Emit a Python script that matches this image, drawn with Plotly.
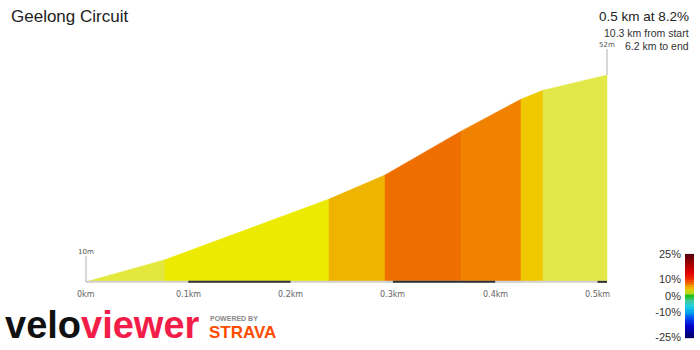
import plotly.graph_objects as go

# ---- data ----
title = "Geelong Circuit"
dist_km = [0.0, 0.0772, 0.2375, 0.2923, 0.3666, 0.4252, 0.4467, 0.5093]
elev_m = [10.0, 14.5, 26.8, 31.7, 40.6, 47.1, 48.9, 52.0]
seg_colors = ["#e4e83c", "#ecea00", "#eeb400", "#ee6e00", "#f08200", "#f0c800", "#e3e84a"]
tick_km = [0.0, 0.1, 0.2, 0.3, 0.4, 0.5]
tick_text = ["0km", "0.1km", "0.2km", "0.3km", "0.4km", "0.5km"]
info_main = "0.5 km at 8.2%"
info_start = "10.3 km from start"
info_end = "6.2 km to end"
grad_ticks = [-25, -10, 0, 10, 25]
grad_text = ["-25%", "-10%", "0%", "10%", "25%"]
grad_colorscale = [
    [0.00, "#000060"], [0.14, "#0000d0"], [0.24, "#0050f0"], [0.30, "#00a0f0"],
    [0.38, "#20d0e0"], [0.44, "#40c8a0"], [0.50, "#20c020"], [0.54, "#b8d820"],
    [0.58, "#e8d000"], [0.64, "#f08000"], [0.70, "#f03000"], [0.78, "#e00000"],
    [0.88, "#a80000"], [1.00, "#580010"],
]

base = min(elev_m)
end = dist_km[-1]
W, H = 700, 350


def px(xp):
    return xp / W


def py(yp):
    return 1 - yp / H


fig = go.Figure()

# profile segments
for i in range(len(dist_km) - 1):
    x0, x1 = dist_km[i], dist_km[i + 1]
    fig.add_trace(go.Scatter(
        x=[x0, x0, x1, x1, x0], y=[base, elev_m[i], elev_m[i + 1], base, base],
        fill="toself", fillcolor=seg_colors[i], mode="lines",
        line=dict(color=seg_colors[i], width=0.5), hoverinfo="skip", showlegend=False,
        xaxis="x", yaxis="y"))

# baseline
fig.add_shape(type="line", xref="x", yref="y", x0=0, x1=end, y0=base, y1=base,
              line=dict(color="#d0d0d0", width=2), layer="above")
for i in range(1, len(tick_km), 2):
    x1 = min(tick_km[i + 1], end) if i + 1 < len(tick_km) else end
    fig.add_shape(type="line", xref="x", yref="y", x0=tick_km[i], x1=x1, y0=base, y1=base,
                  line=dict(color="#333333", width=2), layer="above")

# tick labels
for t, s in zip(tick_km, tick_text):
    fig.add_annotation(x=t, y=base, xref="x", yref="y", text=s, showarrow=False,
                       yanchor="top", yshift=-6, font=dict(family="DejaVu Sans", size=8, color="#666"))

# elevation markers
for x, e in [(dist_km[0], elev_m[0]), (dist_km[-1], elev_m[-1])]:
    fig.add_shape(type="line", xref="x", yref="y", x0=x, x1=x, ysizemode="pixel", yanchor=e,
                  y0=0, y1=26, line=dict(color="#b0b0b0", width=1))
    fig.add_annotation(x=x, y=e, xref="x", yref="y", text=f"{e:.0f}m", showarrow=False,
                       xanchor="center", yanchor="bottom", yshift=24,
                       font=dict(family="DejaVu Sans", size=7, color="#555"))

# gradient scale
z_vals = list(range(-25, 26))
fig.add_trace(go.Heatmap(
    z=[[v] for v in z_vals], y=z_vals, x=[0], colorscale=grad_colorscale, zmin=-25, zmax=25,
    showscale=False, hoverinfo="skip", xaxis="x2", yaxis="y2"))

# texts
fig.add_annotation(x=px(9), y=py(12), xref="paper", yref="paper", text=title, showarrow=False,
                   xanchor="left", yanchor="middle",
                   font=dict(family="Liberation Sans, Arial", size=17, color="#222"))
fig.add_annotation(x=px(691), y=py(12), xref="paper", yref="paper", text=info_main, showarrow=False,
                   xanchor="right", yanchor="middle",
                   font=dict(family="Liberation Sans, Arial", size=13.5, color="#222"))
fig.add_annotation(x=px(691), y=py(29), xref="paper", yref="paper", text=info_start, showarrow=False,
                   xanchor="right", yanchor="middle",
                   font=dict(family="Liberation Sans, Arial", size=10.5, color="#333"))
fig.add_annotation(x=px(691), y=py(42), xref="paper", yref="paper", text=info_end, showarrow=False,
                   xanchor="right", yanchor="middle",
                   font=dict(family="Liberation Sans, Arial", size=10.5, color="#333"))

# logos
fig.add_annotation(x=px(3), y=py(329), xref="paper", yref="paper",
                   text="<b><span style='color:#111'>velo</span><span style='color:#f21d48'>viewer</span></b>",
                   showarrow=False, xanchor="left", yanchor="middle",
                   font=dict(family="Liberation Sans, Arial", size=38))
fig.add_annotation(x=px(208), y=py(323), xref="paper", yref="paper", text="<b>POWERED BY</b>",
                   showarrow=False, xanchor="left", yanchor="middle",
                   font=dict(family="Liberation Sans, Arial", size=7, color="#8a8a8a"))
fig.add_annotation(x=px(207), y=py(337), xref="paper", yref="paper", text="<b>STRAVA</b>",
                   showarrow=False, xanchor="left", yanchor="middle",
                   font=dict(family="Liberation Sans, Arial", size=17, color="#fc4c02"))

px_per_km = 1023.0
x0_px = 86.0
px_per_m = 5.07
base_px = 285.0
xr0 = -x0_px / px_per_km
xr1 = xr0 + W / px_per_km
yr0 = base - (H - base_px) / px_per_m
yr1 = yr0 + H / px_per_m

fig.update_layout(
    width=W, height=H, margin=dict(l=0, r=0, t=0, b=0),
    paper_bgcolor="white", plot_bgcolor="white", hovermode=False,
    xaxis=dict(domain=[0, 1], range=[xr0, xr1], visible=False, fixedrange=True),
    yaxis=dict(domain=[0, 1], range=[yr0, yr1], visible=False, fixedrange=True),
    xaxis2=dict(domain=[px(685), px(694)], anchor="y2", visible=False, range=[-0.5, 0.5]),
    yaxis2=dict(domain=[py(343), py(256)], anchor="x2", range=[-25.5, 25.5], side="left",
                tickvals=grad_ticks, ticktext=grad_text, showgrid=False, zeroline=False,
                ticks="", showline=False, ticklabelstandoff=3,
                tickfont=dict(family="Liberation Sans, Arial", size=11, color="#333")),
)

fig.write_html("out.html")
